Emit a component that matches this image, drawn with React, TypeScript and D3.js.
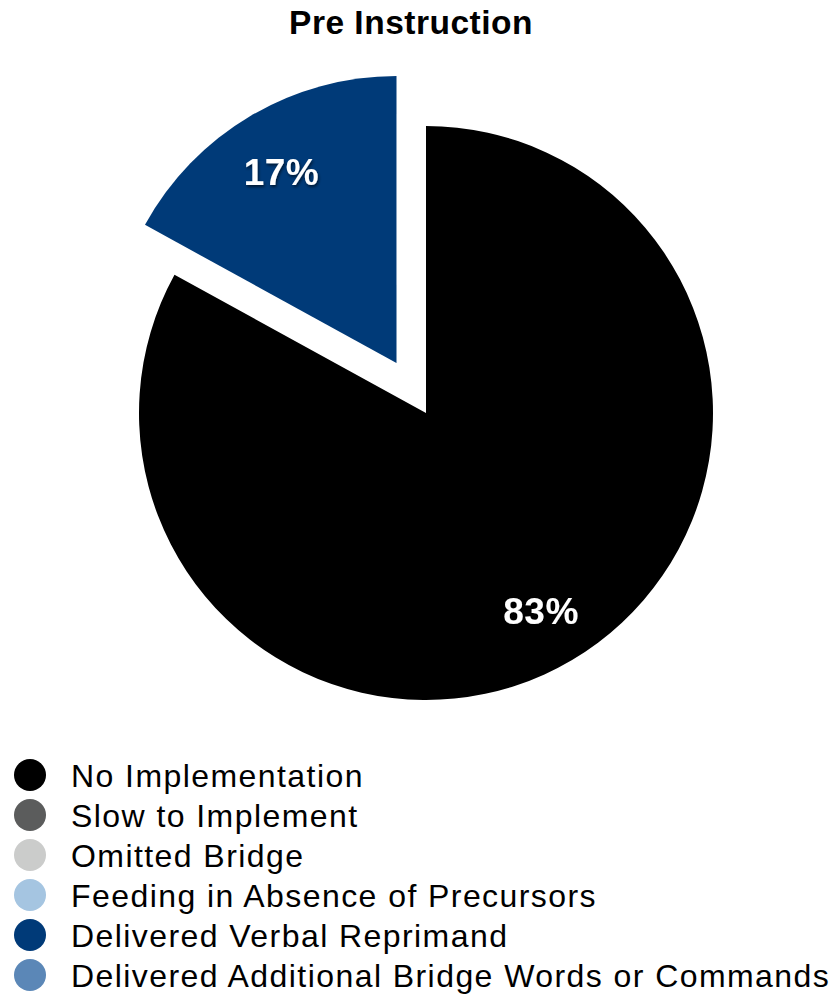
import React from "react";
import * as d3 from "d3";

const categories = [
  "No Implementation",
  "Slow to Implement",
  "Omitted Bridge",
  "Feeding in Absence of Precursors",
  "Delivered Verbal Reprimand",
  "Delivered Additional Bridge Words or Commands",
];
const values = [83, 0, 0, 0, 17, 0];
const colors = ["#000000", "#5b5c5c", "#cbcccb", "#a5c5e1", "#003a78", "#5b87b7"];
const explodedIndex = 4;
const title = "Pre Instruction";

export default function App() {
  const W = 837;
  const H = 999;
  const cx = 426;
  const cy = 413;
  const r = 287;
  const explode = 58;
  const labelR = 226;

  const pie = d3.pie<number>().value((d) => d).sort(null);
  const arcs = pie(values);
  const arc = d3.arc<d3.PieArcDatum<number>>().innerRadius(0).outerRadius(r);

  const font = "'Liberation Sans', Arial, Helvetica, sans-serif";

  return (
    <svg width={W} height={H} style={{ position: "absolute", left: 0, top: 0 }}>
      <defs>
        <filter id="sh" x="-20%" y="-20%" width="140%" height="140%">
          <feDropShadow dx="1" dy="2" stdDeviation="1.5" floodColor="#000" floodOpacity="0.6" />
        </filter>
      </defs>
      <text x={411} y={34} textAnchor="middle" fontFamily={font} fontWeight="bold" fontSize={33.5} letterSpacing={0.5} fill="#000">
        {title}
      </text>
      <g transform={`translate(${cx},${cy})`}>
        {arcs.map((a, i) => {
          if (a.value === 0) return null;
          const mid = (a.startAngle + a.endAngle) / 2;
          const off = i === explodedIndex ? explode : 0;
          const dx = Math.sin(mid) * off;
          const dy = -Math.cos(mid) * off;
          return (
            <path key={i} d={arc(a) || ""} fill={colors[i]} transform={`translate(${dx},${dy})`} />
          );
        })}
        {arcs.map((a, i) => {
          if (a.value === 0) return null;
          const mid = (a.startAngle + a.endAngle) / 2;
          const off = (i === explodedIndex ? explode : 0) + labelR;
          const x = Math.sin(mid) * off;
          const y = -Math.cos(mid) * off;
          return (
            <text
              key={"l" + i}
              x={x}
              y={y}
              dy="0.45em"
              textAnchor="middle"
              fontFamily={font}
              fontWeight="bold"
              fontSize={37}
              letterSpacing={0.5}
              fill="#fff"
              filter="url(#sh)"
            >
              {a.value}%
            </text>
          );
        })}
      </g>
      {categories.map((c, i) => (
        <g key={c} transform={`translate(0,${775 + i * 40})`}>
          <circle cx={30} cy={0} r={16} fill={colors[i]} />
          <text x={71} y={0} dy="0.36em" fontFamily={font} fontSize={32} letterSpacing={1.43} fill="#000">
            {c}
          </text>
        </g>
      ))}
    </svg>
  );
}
